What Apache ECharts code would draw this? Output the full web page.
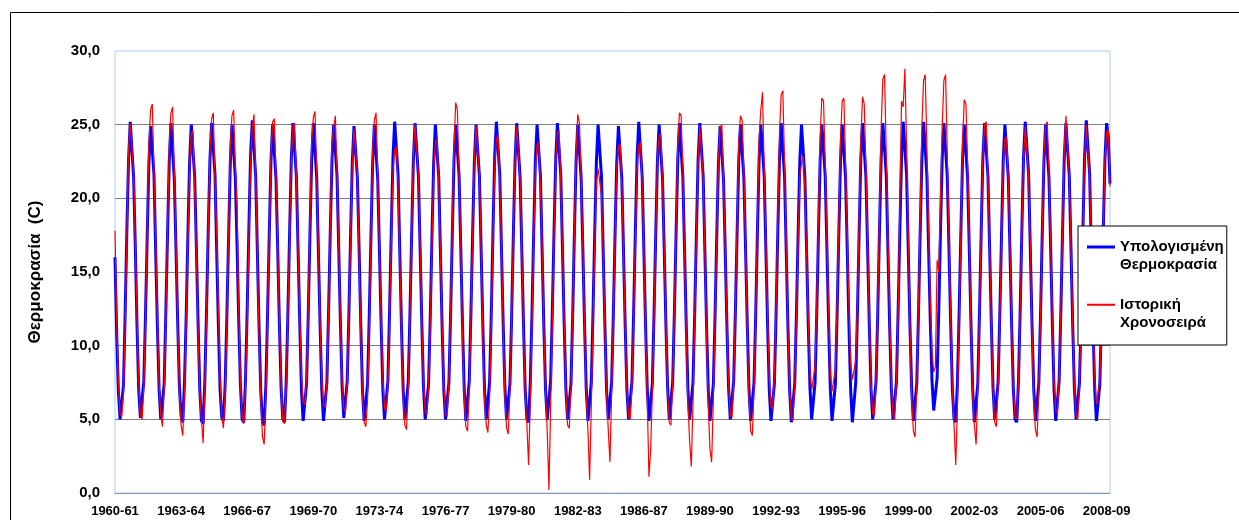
<!DOCTYPE html>
<html lang="el">
  <head>
    <meta charset="UTF-8" />
    <title>Θερμοκρασία - Υπολογισμένη και Ιστορική Χρονοσειρά</title>
    <script src="https://cdn.jsdelivr.net/npm/echarts@6/dist/echarts.min.js"></script>
    <style>
      html, body { margin: 0; padding: 0; background: #fff; }
    </style>
  </head>
  <body>
    <div id="main" style="width: 1239px; height: 520px"></div>

    <script type="text/javascript">
      // hydrological years, Oct -> Sep
      const seasons = [
        "1960-61", "1961-62", "1962-63", "1963-64", "1964-65", "1965-66", "1966-67",
        "1967-68", "1968-69", "1969-70", "1970-71", "1971-72", "1972-73", "1973-74",
        "1974-75", "1975-76", "1976-77", "1977-78", "1978-79", "1979-80", "1980-81",
        "1981-82", "1982-83", "1983-84", "1984-85", "1985-86", "1986-87", "1987-88",
        "1988-89", "1989-90", "1990-91", "1991-92", "1992-93", "1993-94", "1994-95",
        "1995-96", "1996-97", "1997-98", "1998-99", "1999-00", "2000-01", "2001-02",
        "2002-03", "2003-04", "2004-05", "2005-06", "2006-07", "2007-08", "2008-09",
      ];
      const months = ["Οκτ", "Νοε", "Δεκ", "Ιαν", "Φεβ", "Μαρ", "Απρ", "Μαϊ", "Ιουν", "Ιουλ", "Αυγ", "Σεπ"];

      // Υπολογισμένη Θερμοκρασία, one row per season
      const calcTemp = [
        [16.0, 10.8, 6.9, 5.0, 4.9, 7.3, 12.2, 17.8, 22.6, 25.2, 25.2, 21.4],
        [16.6, 11.3, 7.0, 5.1, 5.0, 7.6, 12.1, 17.4, 22.4, 24.9, 25.0, 21.6],
        [16.4, 11.4, 7.1, 5.0, 4.9, 7.4, 12.3, 17.6, 22.5, 25.1, 25.0, 21.3],
        [16.5, 11.5, 7.2, 5.2, 4.8, 7.5, 12.0, 17.5, 22.4, 25.0, 24.9, 21.5],
        [16.7, 11.6, 7.1, 4.9, 4.7, 7.6, 12.4, 17.8, 22.6, 25.1, 25.1, 21.6],
        [16.4, 11.3, 7.0, 5.1, 4.9, 7.4, 12.0, 17.3, 22.3, 25.0, 25.0, 21.4],
        [16.8, 11.7, 7.3, 5.0, 4.8, 7.7, 12.5, 18.0, 23.0, 25.3, 25.2, 21.5],
        [16.3, 11.2, 6.9, 4.8, 4.6, 7.3, 12.1, 17.5, 22.5, 25.0, 25.0, 21.3],
        [16.5, 11.4, 7.1, 5.0, 4.8, 7.5, 12.2, 17.6, 22.6, 25.1, 25.1, 21.5],
        [16.6, 11.5, 7.0, 4.9, 4.8, 7.4, 12.1, 17.5, 22.5, 25.1, 25.0, 21.4],
        [16.4, 11.3, 7.0, 4.9, 4.8, 7.5, 12.3, 17.7, 22.6, 25.0, 25.0, 21.5],
        [16.5, 11.5, 7.2, 5.1, 5.0, 7.6, 12.2, 17.6, 22.5, 24.9, 25.0, 21.4],
        [16.6, 11.4, 7.0, 4.9, 4.9, 7.4, 12.0, 17.4, 22.4, 25.0, 25.0, 21.3],
        [16.5, 11.5, 7.1, 5.0, 5.0, 7.6, 12.4, 17.8, 22.8, 25.2, 25.1, 21.6],
        [16.4, 11.3, 7.0, 5.0, 4.9, 7.5, 12.1, 17.5, 22.5, 25.1, 25.0, 21.5],
        [16.6, 11.6, 7.2, 5.0, 5.0, 7.4, 12.0, 17.4, 22.4, 25.0, 25.0, 21.4],
        [16.3, 11.2, 7.0, 5.0, 4.9, 7.5, 12.2, 17.6, 22.6, 25.0, 25.1, 21.5],
        [16.6, 11.5, 7.1, 4.9, 4.8, 7.6, 12.3, 17.7, 22.5, 25.0, 25.0, 21.5],
        [16.5, 11.4, 7.0, 5.0, 4.9, 7.5, 12.2, 17.8, 22.8, 25.2, 25.1, 21.6],
        [16.6, 11.5, 7.2, 5.0, 4.9, 7.4, 12.0, 17.5, 22.5, 25.1, 25.0, 21.4],
        [16.5, 11.4, 7.0, 5.0, 4.8, 7.5, 12.2, 17.6, 22.6, 25.0, 25.0, 21.5],
        [16.4, 11.3, 7.0, 5.0, 4.9, 7.6, 12.3, 17.7, 22.6, 25.1, 25.0, 21.5],
        [16.5, 11.4, 7.1, 5.0, 4.9, 7.4, 12.0, 17.5, 22.5, 25.0, 25.0, 21.4],
        [16.6, 11.5, 7.1, 4.9, 4.8, 7.5, 12.2, 17.6, 22.5, 25.0, 25.0, 21.5],
        [16.5, 11.4, 7.0, 5.0, 4.9, 7.5, 12.1, 17.5, 22.4, 24.9, 24.8, 21.3],
        [16.4, 11.3, 7.0, 5.0, 4.9, 7.6, 12.4, 17.8, 22.8, 25.2, 25.1, 21.5],
        [16.5, 11.4, 7.1, 4.9, 4.8, 7.4, 12.1, 17.5, 22.5, 25.0, 25.0, 21.4],
        [16.6, 11.5, 7.2, 5.0, 5.0, 7.5, 12.2, 17.6, 22.6, 25.1, 25.0, 21.5],
        [16.5, 11.4, 7.0, 5.0, 4.9, 7.5, 12.2, 17.6, 22.6, 25.1, 25.0, 21.5],
        [16.4, 11.3, 7.0, 4.9, 4.8, 7.4, 12.0, 17.4, 22.4, 24.9, 24.9, 21.3],
        [16.5, 11.4, 7.1, 5.0, 5.0, 7.6, 12.3, 17.6, 22.6, 25.0, 25.0, 21.4],
        [16.6, 11.5, 7.1, 4.9, 4.8, 7.5, 12.2, 17.7, 22.7, 25.0, 25.0, 21.5],
        [16.5, 11.4, 7.0, 4.9, 4.8, 7.4, 12.1, 17.6, 22.6, 25.1, 25.0, 21.5],
        [16.4, 11.3, 7.0, 4.8, 4.7, 7.4, 12.1, 17.5, 22.5, 25.0, 24.9, 21.4],
        [16.5, 11.4, 7.1, 5.0, 5.0, 7.5, 12.2, 17.6, 22.6, 25.0, 25.0, 21.5],
        [16.6, 11.5, 7.1, 4.9, 4.8, 7.4, 12.1, 17.5, 22.5, 25.0, 25.0, 21.4],
        [16.5, 11.3, 7.0, 4.8, 4.7, 7.5, 12.2, 17.7, 22.7, 25.1, 25.0, 21.5],
        [16.6, 11.5, 7.1, 5.0, 4.9, 7.6, 12.3, 17.8, 22.8, 25.1, 25.1, 21.6],
        [16.5, 11.4, 7.1, 5.0, 4.9, 7.5, 12.3, 17.7, 22.7, 25.2, 25.2, 21.6],
        [16.4, 11.3, 7.0, 4.9, 4.8, 7.4, 12.1, 17.6, 22.6, 25.2, 25.1, 21.5],
        [16.5, 11.6, 7.6, 5.6, 5.5, 7.8, 12.4, 17.8, 22.7, 25.1, 25.0, 21.5],
        [16.6, 11.5, 7.1, 5.0, 4.8, 7.5, 12.2, 17.6, 22.6, 25.0, 25.0, 21.4],
        [16.5, 11.4, 7.0, 4.8, 4.7, 7.4, 12.2, 17.6, 22.7, 25.1, 25.2, 21.5],
        [16.6, 11.5, 7.1, 5.0, 4.9, 7.5, 12.1, 17.5, 22.5, 25.0, 25.1, 21.4],
        [16.4, 11.3, 7.0, 5.0, 4.8, 7.6, 12.3, 17.8, 22.8, 25.2, 25.1, 21.6],
        [16.5, 11.4, 7.1, 4.9, 4.8, 7.4, 12.0, 17.4, 22.4, 25.0, 25.0, 21.4],
        [16.6, 11.5, 7.0, 4.9, 4.8, 7.6, 12.3, 17.7, 22.7, 25.1, 25.0, 21.5],
        [16.5, 11.4, 7.1, 5.0, 4.9, 7.5, 12.2, 17.7, 22.8, 25.3, 25.2, 21.6],
        [16.4, 11.3, 7.0, 4.9, 4.8, 7.4, 12.1, 17.6, 22.6, 25.1, 24.2, 21.0],
      ];

      // Ιστορική Χρονοσειρά, one row per season
      const histTemp = [
        [17.8, 11.6, 7.5, 5.4, 5.2, 6.8, 11.5, 17.2, 23.4, 25.1, 25.2, 21.8],
        [16.9, 11.8, 7.6, 5.3, 5.0, 7.2, 11.8, 17.9, 23.8, 26.0, 26.4, 21.9],
        [17.2, 12.0, 7.4, 5.3, 4.5, 6.9, 12.0, 17.9, 23.5, 25.8, 26.2, 21.7],
        [16.9, 11.2, 6.8, 4.6, 3.9, 7.0, 11.8, 17.0, 22.0, 24.4, 24.6, 20.5],
        [16.5, 11.0, 6.9, 5.0, 3.4, 7.2, 12.2, 18.0, 23.2, 25.4, 25.8, 21.2],
        [17.5, 12.4, 7.8, 5.2, 4.4, 7.0, 11.6, 17.6, 23.6, 25.6, 26.0, 22.0],
        [19.5, 12.5, 7.4, 5.2, 4.7, 7.3, 12.0, 17.2, 22.5, 24.8, 25.7, 21.4],
        [16.2, 10.5, 6.5, 3.8, 3.3, 6.5, 11.8, 17.4, 22.8, 25.2, 25.4, 21.6],
        [16.8, 11.6, 7.2, 4.9, 4.7, 7.4, 12.0, 17.3, 22.4, 24.9, 25.1, 21.3],
        [16.9, 11.9, 8.0, 6.2, 6.0, 7.8, 12.5, 18.2, 23.8, 25.5, 25.9, 21.8],
        [16.6, 11.5, 7.7, 6.0, 5.8, 7.5, 12.2, 18.0, 23.9, 24.0, 25.6, 21.6],
        [16.7, 11.8, 7.6, 5.7, 5.5, 7.5, 12.0, 17.4, 22.3, 24.7, 24.8, 21.6],
        [15.8, 11.0, 6.8, 4.8, 4.5, 6.3, 11.3, 17.3, 23.2, 25.3, 25.8, 21.5],
        [16.7, 11.9, 7.8, 5.8, 5.5, 7.2, 11.8, 17.0, 21.8, 23.3, 23.5, 20.8],
        [16.0, 10.8, 6.6, 4.6, 4.3, 7.0, 12.0, 17.6, 22.8, 25.0, 25.1, 21.7],
        [16.9, 11.7, 7.6, 5.5, 5.3, 7.2, 11.6, 16.8, 21.8, 23.8, 24.0, 21.0],
        [16.2, 11.4, 7.3, 5.4, 5.2, 7.6, 12.4, 18.0, 23.5, 26.5, 26.0, 21.4],
        [16.9, 11.0, 6.5, 4.5, 4.2, 7.0, 12.0, 17.5, 22.6, 24.9, 25.0, 21.6],
        [16.6, 10.6, 6.4, 4.6, 4.1, 6.6, 11.6, 17.2, 22.2, 24.0, 24.3, 21.0],
        [16.8, 11.2, 6.6, 4.4, 4.0, 7.0, 12.0, 17.6, 22.6, 24.9, 25.0, 21.3],
        [16.6, 11.0, 6.6, 4.6, 1.9, 6.2, 11.6, 17.0, 22.0, 23.6, 23.8, 20.8],
        [16.8, 11.2, 6.8, 4.2, 0.2, 5.8, 11.5, 17.2, 22.4, 24.4, 24.6, 21.0],
        [16.7, 11.5, 7.0, 4.6, 4.4, 7.2, 12.0, 17.6, 23.0, 25.7, 25.1, 21.4],
        [16.8, 11.3, 6.6, 4.3, 0.9, 6.0, 11.6, 16.8, 21.2, 22.0, 22.1, 20.2],
        [16.5, 11.0, 6.8, 4.3, 2.1, 6.8, 11.8, 17.2, 22.0, 23.5, 23.7, 20.8],
        [16.3, 11.2, 7.0, 5.2, 5.0, 7.4, 12.0, 17.2, 22.0, 23.6, 23.8, 20.9],
        [16.6, 11.0, 6.4, 1.1, 2.9, 6.8, 11.8, 17.4, 22.6, 24.2, 24.4, 21.2],
        [16.8, 11.6, 7.0, 4.8, 4.6, 7.4, 12.3, 17.9, 23.5, 25.8, 25.6, 21.8],
        [16.5, 10.8, 6.2, 3.5, 1.8, 6.2, 11.8, 17.4, 22.6, 24.9, 25.0, 21.4],
        [16.2, 10.6, 6.0, 3.0, 2.1, 6.4, 11.8, 17.2, 22.4, 24.8, 25.0, 21.4],
        [16.7, 11.7, 7.3, 5.3, 5.1, 7.5, 12.4, 18.0, 23.8, 25.6, 25.3, 21.8],
        [16.9, 11.2, 6.5, 4.2, 3.9, 7.0, 12.2, 18.2, 24.2, 26.0, 27.2, 22.0],
        [17.0, 12.0, 7.8, 5.9, 5.7, 7.8, 12.6, 18.4, 24.4, 27.0, 27.3, 22.3],
        [16.6, 11.3, 7.0, 5.1, 4.9, 7.4, 11.8, 17.0, 21.4, 22.4, 22.9, 20.5],
        [16.4, 11.8, 8.2, 7.0, 6.9, 8.6, 13.0, 18.6, 24.2, 26.8, 26.6, 22.4],
        [17.2, 12.2, 8.2, 6.9, 6.8, 8.4, 12.8, 18.4, 24.0, 26.6, 26.8, 22.4],
        [17.4, 12.6, 8.8, 7.7, 7.6, 9.0, 13.0, 18.4, 24.0, 26.9, 26.4, 22.2],
        [17.2, 12.0, 7.4, 5.4, 5.2, 7.8, 12.8, 18.8, 24.8, 28.1, 28.4, 23.0],
        [17.4, 12.0, 7.5, 5.3, 5.0, 7.6, 12.0, 19.5, 26.6, 26.2, 28.8, 23.5],
        [17.6, 11.2, 6.4, 4.2, 3.8, 7.2, 12.6, 18.6, 24.8, 28.0, 28.4, 23.4],
        [17.8, 13.0, 9.6, 8.2, 8.6, 15.8, 15.0, 20.0, 24.8, 28.0, 28.4, 23.0],
        [17.4, 11.8, 7.2, 4.6, 1.9, 5.8, 11.6, 17.6, 23.6, 26.7, 26.4, 22.4],
        [17.0, 11.2, 6.6, 4.6, 3.3, 6.8, 12.0, 17.6, 22.8, 25.0, 25.2, 21.6],
        [16.6, 11.6, 7.0, 4.8, 4.5, 7.2, 11.8, 17.2, 22.2, 24.0, 24.2, 21.2],
        [16.8, 11.4, 7.2, 5.2, 5.0, 7.5, 12.2, 17.6, 22.6, 24.9, 25.0, 21.5],
        [16.9, 11.0, 6.4, 4.3, 3.8, 6.9, 12.0, 17.6, 22.8, 25.0, 25.2, 21.6],
        [16.8, 11.8, 7.6, 5.6, 5.4, 7.8, 12.4, 17.8, 23.2, 25.6, 25.5, 21.6],
        [16.7, 11.5, 7.3, 5.2, 5.0, 7.4, 12.0, 17.5, 22.6, 25.0, 25.1, 21.4],
        [16.6, 11.8, 7.8, 6.0, 5.9, 7.6, 12.2, 17.4, 22.6, 24.5, 24.7, 20.8],
      ];

      const categories = [];
      seasons.forEach((s) => months.forEach((m) => categories.push(s + " " + m)));

      let myChart = echarts.init(document.getElementById("main"));

      const font = "Liberation Sans, Arial, sans-serif";

      const options = {
        animation: false,
        backgroundColor: "#fff",
        graphic: [
          {
            type: "rect",
            shape: { x: 10.5, y: 12.5, width: 1300, height: 600 },
            style: { fill: null, stroke: "#000", lineWidth: 1 },
            silent: true,
          },
        ],
        grid: {
          left: 115,
          right: 129,
          top: 51,
          bottom: 27,
          show: true,
          borderColor: "#a8cdf5",
          borderWidth: 1,
        },
        legend: {
          orient: "vertical",
          left: 1078,
          top: 226,
          padding: [12, 3, 13, 9],
          itemGap: 22,
          itemWidth: 28,
          itemHeight: 21,
          backgroundColor: "#fff",
          borderColor: "#000",
          borderWidth: 1,
          textStyle: {
            fontFamily: font,
            fontWeight: "bold",
            fontSize: 15,
            color: "#000",
            lineHeight: 18,
          },
          data: [
            {
              name: "Υπολογισμένη\nΘερμοκρασία",
              icon: "path://M0,0L28,0L28,3L0,3Z M0,21L28,21Z",
              itemStyle: { color: "#0000ff" },
            },
            {
              name: "Ιστορική\nΧρονοσειρά",
              icon: "path://M0,0.5L28,0.5L28,2.5L0,2.5Z M0,21L28,21Z",
              itemStyle: { color: "#ff0000" },
            },
          ],
        },
        xAxis: {
          type: "category",
          data: categories,
          boundaryGap: false,
          axisLine: { lineStyle: { color: "#8c96a3", width: 1 } },
          axisTick: { show: false },
          splitLine: { show: false },
          axisLabel: {
            interval: 38,
            margin: 12,
            fontFamily: font,
            fontWeight: "bold",
            fontSize: 13,
            color: "#000",
            formatter: (value, index) => seasons[Math.floor(index / 12)],
          },
        },
        yAxis: {
          type: "value",
          min: 0,
          max: 30,
          interval: 5,
          name: "Θερμοκρασία  (C)",
          nameLocation: "middle",
          nameGap: 71,
          nameTextStyle: {
            fontFamily: font,
            fontWeight: "bold",
            fontSize: 17,
            color: "#000",
          },
          axisLine: { show: false },
          axisTick: { show: false },
          splitLine: {
            showMaxLine: false,
            showMinLine: false,
            lineStyle: { color: "#808080", width: 1 },
          },
          axisLabel: {
            margin: 15,
            fontFamily: font,
            fontWeight: "bold",
            fontSize: 15,
            color: "#000",
            formatter: (v) => v.toFixed(1).replace(".", ","),
          },
        },
        series: [
          {
            name: "Υπολογισμένη\nΘερμοκρασία",
            type: "line",
            data: calcTemp.flat(),
            symbol: "none",
            lineStyle: { color: "#0000ff", width: 3 },
            itemStyle: { color: "#0000ff" },
            z: 2,
          },
          {
            name: "Ιστορική\nΧρονοσειρά",
            type: "line",
            data: histTemp.flat(),
            symbol: "none",
            lineStyle: { color: "#ff0000", width: 1.2 },
            itemStyle: { color: "#ff0000" },
            z: 3,
          },
        ],
      };

      myChart.setOption(options);
    </script>
  </body>
</html>
